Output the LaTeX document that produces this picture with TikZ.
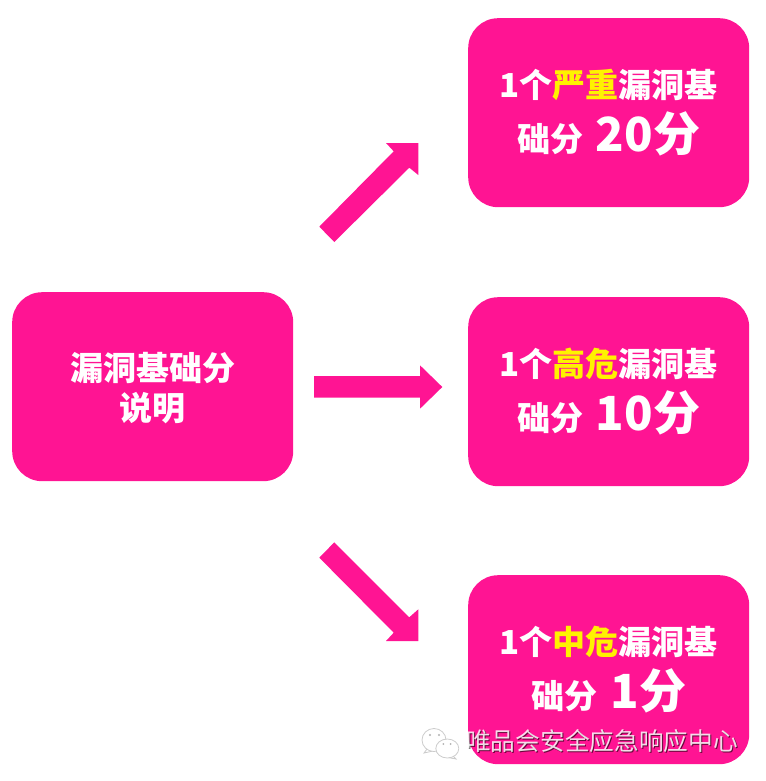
\documentclass[tikz,border=0pt]{standalone}
\usepackage{fontspec}
\setmainfont{Noto Sans CJK SC}
\definecolor{rose}{HTML}{FF1493}
\newcommand{\sz}[1]{\fontsize{#1}{#1}\selectfont}
\newcommand{\hi}[1]{\textcolor{yellow}{#1}}
\newcommand{\bigpart}[1]{\hspace{5pt}{\sz{47}#1}}
\tikzset{
  x=1pt,y=-1pt,
  card/.style={fill=rose,rounded corners=30pt,minimum width=281pt,minimum height=189pt,inner sep=0pt,
    text=white,align=center,font=\sz{33}\bfseries},
  blockarrow/.style={fill=rose},
  mark text/.style={font=\sz{24.7},inner sep=0pt,anchor=west},
  bubble/.style={fill=white,draw=black!20,line width=0.8pt},
  bubbledot/.style={fill=black!30}
}
\begin{document}
\begin{tikzpicture}
\useasboundingbox (0,0) rectangle (765,781);
\node[card,anchor=north west] (src) at (12,292) {\rule{0pt}{31pt}漏洞基础分\\[7pt]说明};
\node[card,anchor=north west] (crit) at (468,18) {1个\hi{严重}漏洞基\\[10pt]础分 \bigpart{20分}};
\node[card,anchor=north west] (high) at (468,297) {1个\hi{高危}漏洞基\\[10pt]础分 \bigpart{10分}};
\node[card,anchor=north west] (med) at (468,575) {1个\hi{中危}漏洞基\\[10pt]础分\hspace{1pt} \bigpart{1分}};
% block arrows
\fill[blockarrow] (319.3,226.7) -- (393.7,151.3) -- (386,143) -- (418.3,143) -- (418.3,175) -- (409.3,167.7) -- (334.3,242) -- cycle;
\fill[blockarrow] (314,376) -- (420,376) -- (420,365.3) -- (442.3,387) -- (420,408.7) -- (420,397.7) -- (314,397.7) -- cycle;
\fill[blockarrow] (319.3,557.7) -- (393.7,632.7) -- (386,641) -- (418.3,641) -- (418.3,609.3) -- (409.3,617.3) -- (334.3,542.3) -- cycle;
% watermark
\node[mark text,text=black,opacity=.6] (wmshadow) at (467,742.5) {唯品会安全应急响应中心};
\node[mark text,text=white,opacity=.85] (wm) at (466,741.5) {唯品会安全应急响应中心};
% WeChat icon
\draw[bubble] (427,749) -- (424,753) -- (433,751);
\draw[bubble] (434,740) ellipse (12 and 11.5);
\draw[bubble] (453,756) -- (456,759) -- (448,757.5);
\draw[bubble] (447.3,748.5) ellipse (11.5 and 9.5);
\fill[bubbledot] (430,735) circle (1.2) (439,735) circle (1.2) (443.3,744) circle (1) (450.7,744) circle (1);
\end{tikzpicture}
\end{document}
